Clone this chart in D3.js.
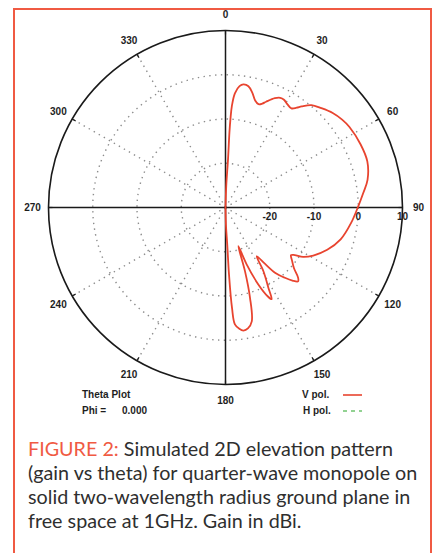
<!DOCTYPE html>
<html>
<head>
<meta charset="utf-8">
<script src="https://cdn.jsdelivr.net/npm/d3@7"></script>
<style>
  html, body { margin: 0; padding: 0; background: #fff; }
  svg { display: block; }
</style>
</head>
<body>
<svg id="fig" width="436" height="553"></svg>
<script>
// Elevation-plane gain of the vertically polarised field, theta in degrees from zenith
const thetaDeg = [
  0, 2, 3, 3, 3.2, 3.6, 4.7, 6.6, 8.3, 10.7, 13.2, 15.5, 17.7, 19.5, 21, 24.3, 26.5, 28.5,
  31, 33.6, 35.5, 37, 40, 44, 48.6, 53, 57, 65, 72, 79, 84, 89.5, 97, 105.5, 112.6,
  118.7, 122.5, 124.5, 126, 128.5, 131.6, 134, 135.5, 137.5, 139.8, 142.8, 145, 147.4,
  149.2, 151.9, 153.3, 154.6, 156.9, 159.6, 161.6, 163, 164.8, 167, 169.5, 171.7,
  173.5, 175.4, 176.3, 177, 177.3, 178.5, 180
];
const vPolDb = [
  -30, -25, -19, -13, -10, -7, -4.1, -2.4, -1.9, -2.1, -3.4, -4.9, -5.5, -5.1, -4.4, -2.9, -2.3, -2.3,
  -2.8, -3.1, -2.3, -1.4, 0.2, 1.2, 2.3, 3.0, 3.4, 3.7, 3.7, 2.7, 1.3, 0.0, -1.4, -3.0, -5.1,
  -7.4, -9.2, -11.0, -11.7, -10.8, -9.3, -7.2, -6.6, -7.6, -9.2, -11.5, -14.5, -16.9,
  -13.3, -9.4, -6.8, -7.8, -11.1, -16.3, -20.8, -14.9, -8.9, -3.6, -2.2, -1.9,
  -2.4, -3.5, -7.3, -14.8, -21.6, -26, -30
];

// Axis annotations
const angleTicks = d3.range(0, 360, 30);
const gainTicks = [-20, -10, 0, 10];
const ringLevels = [-20, -10, 0];
const gainDomain = [-30, 10];

const legendTitle = ["Theta Plot", "Phi =", "0.000"];
const seriesNames = ["V pol.", "H pol."];

const captionLead = "FIGURE 2:";
const captionLines = [
  " Simulated 2D elevation pattern",
  "(gain vs theta) for quarter-wave monopole on",
  "solid two-wavelength radius ground plane in",
  "free space at 1GHz. Gain in dBi."
];

const svg = d3.select("#fig");
const accent = "#f05a43";
const curveColor = "#e8442f";
const gridColor = "#8c8c8c";

// page frame
svg.append("rect")
  .attr("x", 14).attr("y", 9)
  .attr("width", 417).attr("height", 560)
  .attr("fill", "none")
  .attr("stroke", accent)
  .attr("stroke-width", 2);

const cx = 225.5, cy = 207.5, R = 177;
const r = d3.scaleLinear().domain(gainDomain).range([0, R]);
const rad = d => d * Math.PI / 180;

const plot = svg.append("g").attr("transform", `translate(${cx},${cy})`);

// dotted rings
plot.selectAll("circle.ring")
  .data(ringLevels)
  .join("circle")
  .attr("class", "ring")
  .attr("r", d => r(d))
  .attr("fill", "none")
  .attr("stroke", gridColor)
  .attr("stroke-width", 1.4)
  .attr("stroke-dasharray", "1.4,4.4");

// dotted spokes (the 0/90/180/270 ones lie under the solid axes)
plot.selectAll("line.spoke")
  .data(angleTicks.filter(a => a % 90 !== 0))
  .join("line")
  .attr("class", "spoke")
  .attr("x1", 0).attr("y1", 0)
  .attr("x2", a => R * Math.sin(rad(a)))
  .attr("y2", a => -R * Math.cos(rad(a)))
  .attr("stroke", gridColor)
  .attr("stroke-width", 1.4)
  .attr("stroke-dasharray", "1.4,4.4");

// outer circle
plot.append("circle")
  .attr("r", R)
  .attr("fill", "none")
  .attr("stroke", "#1a1a1a")
  .attr("stroke-width", 1.6);

// solid cross axes
plot.append("line")
  .attr("x1", -R).attr("x2", R).attr("y1", 0).attr("y2", 0)
  .attr("stroke", "#1a1a1a").attr("stroke-width", 1.5);
plot.append("line")
  .attr("x1", 0).attr("x2", 0).attr("y1", -R).attr("y2", R)
  .attr("stroke", "#1a1a1a").attr("stroke-width", 1.5);

// small inward ticks on the rim
plot.selectAll("line.rimtick")
  .data(angleTicks)
  .join("line")
  .attr("class", "rimtick")
  .attr("x1", a => R * Math.sin(rad(a)))
  .attr("y1", a => -R * Math.cos(rad(a)))
  .attr("x2", a => (R - 4) * Math.sin(rad(a)))
  .attr("y2", a => -(R - 4) * Math.cos(rad(a)))
  .attr("stroke", "#1a1a1a").attr("stroke-width", 1.2);

const labelFont = "'Liberation Sans Narrow', 'Liberation Sans', Arial, sans-serif";

// angle labels
const LR = 193;
plot.selectAll("text.ang")
  .data(angleTicks)
  .join("text")
  .attr("class", "ang")
  .attr("x", a => LR * Math.sin(rad(a)))
  .attr("y", a => -LR * Math.cos(rad(a)))
  .attr("dy", "0.35em")
  .attr("text-anchor", "middle")
  .attr("font-family", labelFont)
  .attr("font-weight", "bold")
  .attr("font-size", 10)
  .attr("fill", "#1e1e1e")
  .text(a => a);

// gain labels along the 90 degree axis
plot.selectAll("text.gain")
  .data(gainTicks)
  .join("text")
  .attr("class", "gain")
  .attr("x", d => r(d))
  .attr("y", 9)
  .attr("dy", "0.35em")
  .attr("text-anchor", "middle")
  .attr("font-family", labelFont)
  .attr("font-weight", "bold")
  .attr("font-size", 10)
  .attr("fill", "#1e1e1e")
  .text(d => d);

// pattern trace
const pts = thetaDeg.map((t, i) => [rad(t), r(Math.max(vPolDb[i], gainDomain[0]))]);
const radial = d3.lineRadial()
  .angle(d => d[0])
  .radius(d => d[1])
  .curve(d3.curveCatmullRom.alpha(0.5));
plot.append("path")
  .attr("d", radial(pts))
  .attr("fill", "none")
  .attr("stroke", curveColor)
  .attr("stroke-width", 1.8)
  .attr("stroke-linejoin", "round");

// legend
const lg = svg.append("g")
  .attr("font-family", labelFont)
  .attr("font-weight", "bold")
  .attr("font-size", 10)
  .attr("fill", "#1e1e1e");
lg.append("text").attr("x", 82).attr("y", 398).text(legendTitle[0]);
lg.append("text").attr("x", 82).attr("y", 414).text(legendTitle[1]);
lg.append("text").attr("x", 122).attr("y", 414).text(legendTitle[2]);
lg.append("text").attr("x", 302).attr("y", 398).text(seriesNames[0]);
lg.append("text").attr("x", 303).attr("y", 414).text(seriesNames[1]);
svg.append("line")
  .attr("x1", 343).attr("x2", 362).attr("y1", 395).attr("y2", 395)
  .attr("stroke", curveColor).attr("stroke-width", 1.6);
svg.append("line")
  .attr("x1", 343).attr("x2", 362).attr("y1", 411).attr("y2", 411)
  .attr("stroke", "#6fc46f").attr("stroke-width", 1.6)
  .attr("stroke-dasharray", "4,4");

// caption
const capFont = "Lato, 'Open Sans', sans-serif";
const cap = svg.append("g")
  .attr("font-family", capFont)
  .attr("font-size", 17)
  .attr("fill", "#2f2f2f");
const first = cap.append("text").attr("x", 28).attr("y", 456);
first.append("tspan").attr("fill", accent).text(captionLead);
first.append("tspan").text(captionLines[0]);
// fit the first line to its column width and use that size for all lines
const targetW = 365;
const w0 = first.node().getComputedTextLength();
const fs = 17 * targetW / w0;
cap.attr("font-size", fs.toFixed(2));
captionLines.slice(1).forEach((line, i) => {
  cap.append("text")
    .attr("x", 28)
    .attr("y", 456 + (i + 1) * 24)
    .text(line);
});
</script>
</body>
</html>
